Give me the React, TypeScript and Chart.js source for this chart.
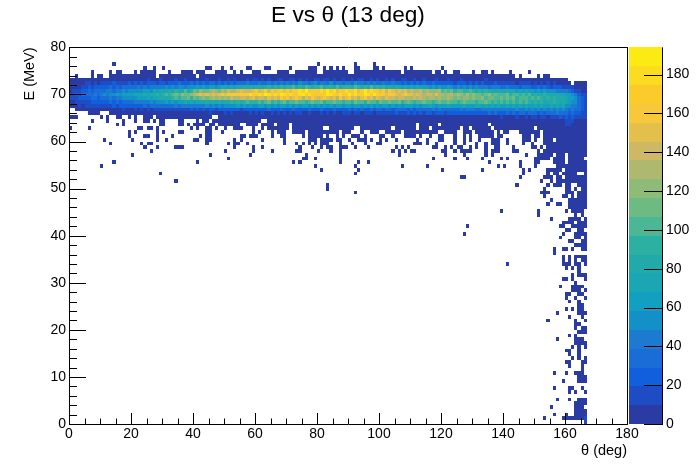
import React, { useEffect, useRef } from "react";
import { Chart, registerables } from "chart.js";

Chart.register(...registerables);

const FONT = '"Liberation Sans", Arial, sans-serif';
const thetaBin = 1;
const energyBin = 0.8;
const zMax = 194;

// colour of each of the 20 contour levels, bottom to top
const palette = [
  "#2a3ba4", "#1e4cc4", "#115fdc", "#1a6cd6", "#1c7bd0", "#1490c8", "#139fc0", "#1ba6b4", "#22aaaa", "#2cb0a2",
  "#4ab897", "#6dbb82", "#8fbb78", "#aeb86f", "#cfb863", "#e3bf4c", "#f6c83a", "#fbcb2b", "#fcdc20", "#fbeb12",
];

// dense band: one string per energy row, one character per theta column, grouped by ten; 0-9,a-j = level, . = empty
const bandRows: Record<number, string> = {
  91: "0000000000 0000000000 0000010001 0000100100 0100100010 0101000101 1010100110 0110101001 1011010010 0101100101 0010100110 0100100010 0010001000 0000100000 0000000000 0000000000 0......",
  90: "0000011010 1111211112 1212122212 2122232223 2323233232 3232333433 3433434343 4343544345 3443534434 4354434343 3433433232 3232322322 2222122212 1212111211 1111011110 1010101000 00.0000",
  89: "0000112122 2223232333 3343434444 4545455455 5656566567 7676778787 8878979898 99a898a989 9a8998a899 98a9898a89 8978787676 7676665656 5565454545 4544434443 3433323332 2323212221 1110000",
  88: "0111223233 3344344545 5555665767 7787988a89 bacbbcdcbd ceddefeeef gefhegfghf hfhgihjghg gihjhifhgi hgifhjgihg fhegfefefd eddecdcccd abab9aa99a 9898988787 7877676766 5656555444 4321100",
  87: "1122333343 4545565666 6777878898 9a9abacbbc defefefefg fgghghghih hihjihihji hihgijhihg hghjihgihg jhighjigjh ghfggfefgf fefedeedfd dcddcdcbdb cbbabcabaa ab9aa9a9a8 9889887877 6654211",
  86: "1112222332 3334344555 5566676778 8889a9aab9 babcbcdcdc dceddeedef deedfefegf gefgfdfegf efgfefdgef gefdfgefdf edfeedeedd dededcddcd ccdcbcbccb cbbcabbaab abab9aaa9a 9a98989888 7665321",
  85: "0011111222 2223232333 3444445455 5656566767 6777878787 8898989a99 9a9ab9a9ab 9aabaa9aba ab9aabaa9a a9baa9baa9 baabaab9ab a9aabaa9ab aabaa9abaa a9aaba9a9a 9a9a9a9a98 9897889878 7655321",
  84: "0001011111 1111212222 2222323333 3333434444 4444545454 5555656565 5665656566 5656566565 6565656656 6566565656 5665656566 6565667656 6676666766 6776767676 6767676766 7676676767 5544321",
  83: "..00000000 0000000100 0101010111 1111111112 1212122122 2222212222 2222322232 2232222322 2322232222 3232322323 3233233332 3233333434 3333334344 4334444444 4444544545 4545454545 4343321",
  82: "......0000 ...0000000 0000000000 0000000000 0000010000 1010000010 1010010101 0101100100 0101010011 1011011101 1111121112 1212122122 2122222222 2222232322 2323233233 3232333433 3232211",
  81: "000....... 0.0..00..0 .0..000.00 0000000000 000000..00 0000000000 0000000000 0000000000 0000000000 0000000000 0000000000 0000000000 0000000000 0000000001 0000100101 1011011121 2121111",
};

// sparse rows: energy row -> theta columns (a-b is a run); :n gives a level other than the lowest
const sparseRows: Record<number, string> = {
  95: "14 80 92 98",
  94: "24 27 30 44-45 49 52 57-58 63-64 71 77-79 82 84 86 88 92-93 98-99 101 108 110 120",
  93: "7 13 15-16 21 23-27 32 36-39 41-43 47-50 53 55 59-61 67-70 73-79 82-89 92-102 103-106 108-116 118-119 121 124-125 130 133-134 136 142 148",
  92: "2 7 9-10 13-27 29-40 42-143 145 151 153-154",
  80: "7 12 17 21 24-25 27 29-30 35-36 41 43-44 46-61 64-159 160-162:1 163-166",
  79: "15 17 29-30 35-36 38 40-43 45-46 48-54 57-60 62-65 67-70 72-111 113-118 120-134 136-159 160-161:1 162-166",
  78: "0 6 22-23 25-26 28 39 41 44-45 47 50 53-55 59 62 64-70 72-81 84-91 94-103 105-111 113-115 117-125 127-128 130-135 137-149 151-166",
  77: "19 21 28 30 35-36 44-45 49 59 61 65 67-69 72-75 77-83 84-86 88-90 94 97-99 102-106 108-115 116-118 121-124 127-129 131-136 138 140-141 145-151 153-166",
  76: "19 24-25 28 33 42 44-45 55-56 58-60 65 68-69 75 77-81 83 86 88 91-93 95 100-101 104 108-111 113 116 119-120 124 127 129 132-136 138-139 146-148 150-151 153-166",
  75: "11 20 28 31 40-41 44-45 53 55 62 69 77-79 81-83 84 86-87 90 93-95 97 100 102 105 112 115 119-120 124 127 129 132 136-138 141 146-148 150 153-155 157-166",
  74: "13 23 25-26 44 51 53-54 57 69 73 75 77 79 81-83 87 91 95 99-100 111-113 115 118 124 127 131 134 136-138 141 146 149 153-166",
  73: "24 28 34-36 53 59 62 74 78 81 83 84 87-89 92 96 105 107 109 117-118 121 123 125-126 129 131 134 137-138 143 149-150 152 154-166",
  72: "26 50 59 65 73-74 80 84 87 104 106 108 110-111 120-121 124 126-129 134 136-138 143-144 151 153-166",
  71: "20 45 58 76 87 106 121 127 134 136 147 151-155 157-159 161-166",
  70: "51 75-76 79 87 117 124 128 133 139 141 150-154 156-159 161-165",
  69: "14 41 72 74 87 93 96 135 145 150-151 156-159 161-166",
  68: "10 79 92 107 115 138 140 145 150 157-166",
  67: "81 93 120 133 146 148 154-155 156-158 160-166",
  66: "29 92 146 154 156-157 159 160-163 166",
  65: "126-127 145 153-155 157-158 160-166",
  64: "34 152 155 157-159 160-166",
  63: "83 144 154 156-158 160-161 164-166",
  62: "83 153 160-161 163 165-166",
  61: "92 152-154 160-162 164-166",
  60: "153 159-160 162 164-166",
  59: "155 161-166",
  58: "154 157-158 161-166",
  57: "161-166",
  56: "139 151 160 162-165",
  55: "151 163 165",
  54: "155 161-164 166",
  53: "159-162 164-166",
  52: "128 158-159 162-166",
  51: "160-161 164-165",
  50: "127 159 163-166",
  49: "158 163-164 166",
  48: "161-162 165-166",
  47: "163-166",
  46: "156 159-160 162 165-166",
  45: "156",
  44: "159 161 163-166",
  43: "159 161 163 165-166",
  42: "141 159-161 163-164 166",
  41: "160 162 164",
  40: "164",
  39: "162 164-166",
  38: "159-160 162 166",
  37: "163",
  36: "158 162-165",
  35: "162-164 166",
  34: "160-161 164-165",
  33: "160 163 166",
  32: "161 164",
  31: "164-165",
  30: "160 162 164-165",
  29: "157 164-166",
  28: "161 165",
  27: "154 163 166",
  26: "163-164",
  25: "163 165-166",
  24: "164-166",
  23: "161 163",
  22: "157 163-165",
  21: "163-166",
  20: "162 164 166",
  19: "160-161 164",
  18: "161 164",
  17: "162 164 166",
  16: "160-161 165-166",
  15: "161 165",
  14: "165",
  13: "156 160 163-165",
  12: "164-166",
  11: "159 164-166",
  9: "156 161-162 165",
  8: "161 163 166",
  6: "157 161 164-166",
  5: "163-166",
  4: "155 163-165",
  3: "163-166",
  2: "156 160 163-166",
  1: "153 159-165 166:1",
  0: "166:1",
};

const thetaTicks = { min: 0, max: 180, step: 5, labelEvery: 20 };
const energyTicks = { min: 0, max: 80, step: 2, labelEvery: 10 };
const zStep = 20;

type Cell = { x: number; y: number; v: number };

function levelOf(c: string) {
  return parseInt(c, 20);
}

function buildCells(): Cell[] {
  const cells: Cell[] = [];
  const push = (col: number, row: number, level: number) =>
    cells.push({ x: (col + 0.5) * thetaBin, y: (row + 0.5) * energyBin, v: level });
  Object.entries(bandRows).forEach(([row, text]) => {
    text
      .replace(/ /g, "")
      .split("")
      .forEach((c, col) => {
        if (c !== ".") push(col, Number(row), levelOf(c));
      });
  });
  Object.entries(sparseRows).forEach(([row, text]) => {
    text.split(" ").forEach((item) => {
      const [range, lvl] = item.split(":");
      const [a, b] = range.split("-").map(Number);
      for (let col = a; col <= (b ?? a); col++) push(col, Number(row), lvl ? Number(lvl) : 0);
    });
  });
  return cells;
}

const heatmapPlugin = {
  id: "heatmap",
  afterDatasetsDraw(chart: any) {
    const { ctx, scales } = chart;
    const { x, y, z } = scales;
    ctx.save();
    chart.data.datasets[0].data.forEach((c: Cell) => {
      const x0 = Math.round(x.getPixelForValue(c.x - thetaBin / 2));
      const x1 = Math.round(x.getPixelForValue(c.x + thetaBin / 2));
      const y0 = Math.round(y.getPixelForValue(c.y + energyBin / 2));
      const y1 = Math.round(y.getPixelForValue(c.y - energyBin / 2));
      ctx.fillStyle = palette[c.v];
      ctx.fillRect(x0, y0, x1 - x0, y1 - y0);
    });
    // colour scale
    const barLeft = 629;
    const barRight = 662;
    palette.forEach((colour, i) => {
      const top = Math.round(z.getPixelForValue(((i + 1) * zMax) / palette.length));
      const bottom = Math.round(z.getPixelForValue((i * zMax) / palette.length));
      ctx.fillStyle = colour;
      ctx.fillRect(barLeft, top, barRight - barLeft, bottom - top);
    });
    ctx.restore();
  },
  afterDraw(chart: any) {
    const { ctx, chartArea, scales } = chart;
    const { x, y, z } = scales;
    const { left, right, top, bottom } = chartArea;
    ctx.save();
    ctx.strokeStyle = "#000";
    ctx.lineWidth = 1;
    ctx.beginPath();
    const h = (x0: number, x1: number, yy: number) => {
      ctx.moveTo(x0, Math.round(yy) + 0.5);
      ctx.lineTo(x1, Math.round(yy) + 0.5);
    };
    const v = (xx: number, y0: number, y1: number) => {
      ctx.moveTo(Math.round(xx) + 0.5, y0);
      ctx.lineTo(Math.round(xx) + 0.5, y1);
    };
    h(left, right + 1, top);
    h(left, right + 1, bottom);
    v(left, top, bottom + 1);
    v(right, top, bottom + 1);
    for (let t = thetaTicks.min; t <= thetaTicks.max; t += thetaTicks.step) {
      v(x.getPixelForValue(t), bottom - (t % thetaTicks.labelEvery === 0 ? 11 : 5.5), bottom);
    }
    for (let t = energyTicks.min; t <= energyTicks.max; t += energyTicks.step) {
      h(left, left + (t % energyTicks.labelEvery === 0 ? 17 : 8), y.getPixelForValue(t));
    }
    v(662, top, bottom + 1);
    for (let t = 0; t <= zMax; t += zStep) {
      h(644, 663, z.getPixelForValue(t));
    }
    ctx.stroke();
    ctx.restore();
  },
};

export default function App() {
  const ref = useRef<HTMLCanvasElement>(null);
  useEffect(() => {
    const tickFont = { family: FONT, size: 14 };
    const chart = new Chart(ref.current as HTMLCanvasElement, {
      type: "scatter",
      plugins: [heatmapPlugin],
      data: {
        datasets: [
          { label: "E vs θ", data: buildCells() as any, pointRadius: 0, pointHoverRadius: 0, showLine: false },
        ],
      },
      options: {
        animation: false,
        responsive: false,
        events: [],
        layout: { padding: 0, autoPadding: false },
        plugins: {
          legend: { display: false },
          tooltip: { enabled: false },
          title: {
            display: true,
            text: "E vs θ (13 deg)",
            color: "#000",
            font: { family: FONT, size: 22.7, weight: "normal" },
            padding: { top: 2, bottom: 17.8 },
          },
        },
        scales: {
          x: {
            type: "linear",
            min: thetaTicks.min,
            max: thetaTicks.max,
            grid: { display: false, drawTicks: false },
            border: { display: false },
            afterFit: (s: any) => {
              s.height = 48;
            },
            title: {
              display: true,
              text: "θ (deg)",
              align: "end",
              color: "#000",
              font: { family: FONT, size: 14.5 },
              padding: { top: 0, bottom: 12 },
            },
            ticks: {
              stepSize: thetaTicks.step,
              autoSkip: false,
              maxRotation: 0,
              padding: 2,
              color: "#000",
              font: tickFont,
              callback: (val: any) => (val % thetaTicks.labelEvery === 0 ? String(val) : ""),
            },
          },
          y: {
            type: "linear",
            min: energyTicks.min,
            max: energyTicks.max,
            grid: { display: false, drawTicks: false },
            border: { display: false },
            afterFit: (s: any) => {
              s.width = 69;
            },
            title: {
              display: true,
              text: "E (MeV)",
              align: "end",
              color: "#000",
              font: { family: FONT, size: 14.5 },
              padding: { top: 21, bottom: 0 },
            },
            ticks: {
              stepSize: energyTicks.step,
              autoSkip: false,
              padding: 3,
              color: "#000",
              font: tickFont,
              callback: (val: any) => (val % energyTicks.labelEvery === 0 ? String(val) : ""),
            },
          },
          z: {
            type: "linear",
            position: "right",
            min: 0,
            max: zMax,
            grid: { display: false, drawTicks: false },
            border: { display: false },
            afterFit: (s: any) => {
              s.width = 69;
            },
            ticks: {
              stepSize: zStep,
              includeBounds: false,
              padding: 39,
              color: "#000",
              font: tickFont,
            },
          },
        },
      } as any,
    });
    return () => chart.destroy();
  }, []);
  return (
    <div style={{ position: "fixed", left: 0, top: 0, width: 696, height: 472, background: "#fff" }}>
      <canvas ref={ref} width={696} height={472} style={{ display: "block" }} />
    </div>
  );
}
